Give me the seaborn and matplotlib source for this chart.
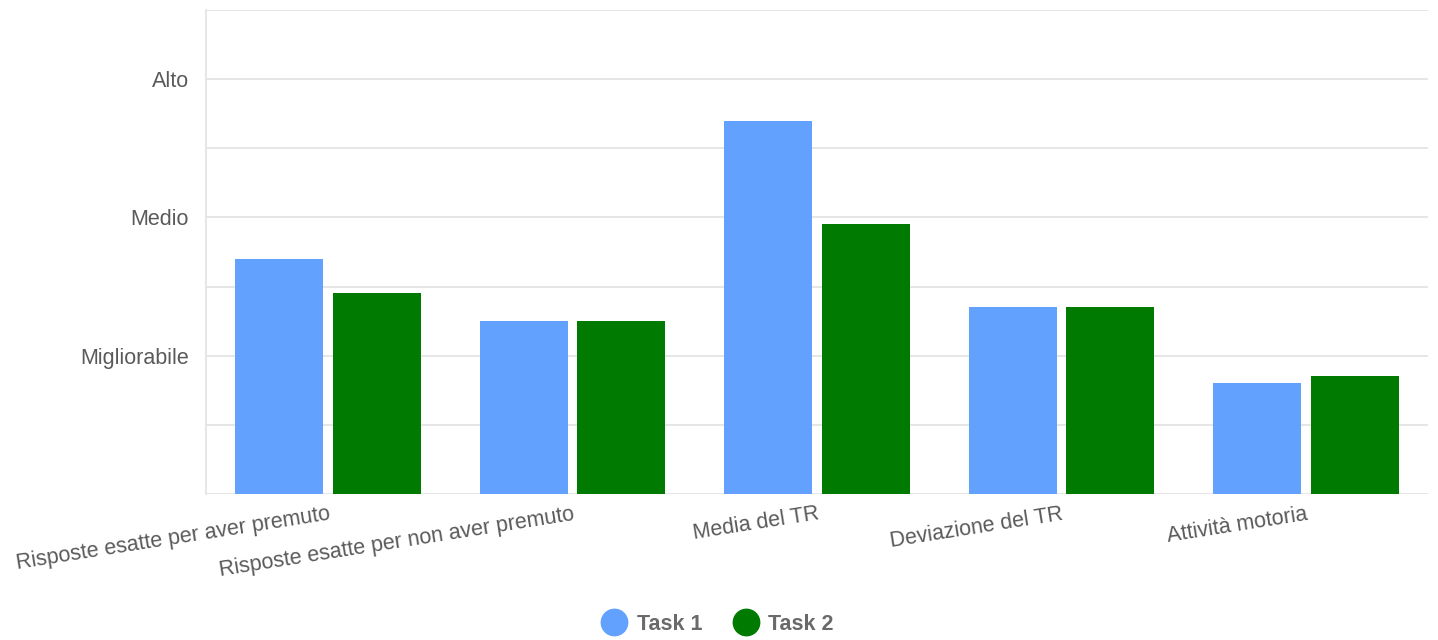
import matplotlib
matplotlib.use("Agg")
import matplotlib.pyplot as plt
from matplotlib.lines import Line2D
import pandas as pd
import seaborn as sns

categories = [
    "Risposte esatte per aver premuto",
    "Risposte esatte per non aver premuto",
    "Media del TR",
    "Deviazione del TR",
    "Attività motoria",
]
task1 = [1.7, 1.25, 2.7, 1.35, 0.8]
task2 = [1.45, 1.25, 1.95, 1.35, 0.85]
series = ["Task 1", "Task 2"]
colors = ["#63a1ff", "#007a00"]
y_ticks = [0, 0.5, 1, 1.5, 2, 2.5, 3, 3.5]
y_labels = ["", "", "Migliorabile", "", "Medio", "", "Alto", ""]

df = pd.DataFrame({
    "categoria": categories * 2,
    "valore": task1 + task2,
    "task": [series[0]] * len(categories) + [series[1]] * len(categories),
})

sns.set_theme(style="white")
plt.rcParams["font.family"] = ["Liberation Sans", "DejaVu Sans"]

grid_col = "#e4e4e4"
fig = plt.figure(figsize=(14.38, 6.4), dpi=100)
ax = fig.add_axes([206 / 1438, 146 / 640, 1222 / 1438, 484 / 640])

sns.barplot(
    ax=ax,
    data=df,
    x="categoria",
    y="valore",
    hue="task",
    palette=colors,
    saturation=1,
    gap=0.1,
    linewidth=0,
    legend=False,
    zorder=3,
)

ax.set_xlim(-0.5, len(categories) - 0.5)
ax.set_ylim(0, 3.5)
ax.set_yticks(y_ticks)
ax.set_yticklabels(y_labels)
ax.set_xlabel("")
ax.set_ylabel("")
ax.grid(axis="y", color=grid_col, linewidth=1.3, zorder=0)
ax.set_axisbelow(True)

for side in ["top", "right", "bottom"]:
    ax.spines[side].set_visible(False)
ax.spines["left"].set_color(grid_col)
ax.spines["left"].set_linewidth(1.3)

ax.tick_params(axis="y", length=11.5, width=1.3, color=grid_col, pad=1,
               labelsize=15.5, labelcolor="#5a5a5a")
ax.tick_params(axis="x", length=0, pad=7, labelsize=15.5, labelcolor="#5a5a5a")
for lab in ax.get_xticklabels():
    lab.set_rotation(9)
    lab.set_ha("right")
    lab.set_rotation_mode("anchor")
    lab.set_va("top")

handles = [
    Line2D([], [], marker="o", linestyle="", markersize=19,
           markerfacecolor=c, markeredgecolor=c)
    for c in colors
]
leg = fig.legend(handles, series, loc="lower center", bbox_to_anchor=(0.496, -0.022),
                 ncol=2, frameon=False, handletextpad=0.05, columnspacing=1.0,
                 prop={"size": 15.5, "weight": "bold"})
for t in leg.get_texts():
    t.set_color("#6a6a6a")

fig.savefig("out.png", dpi=100)
